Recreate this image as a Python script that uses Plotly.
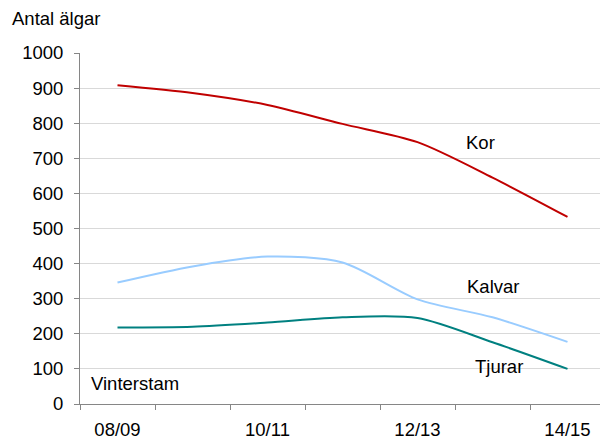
import plotly.graph_objects as go

seasons = ["08/09", "09/10", "10/11", "11/12", "12/13", "13/14", "14/15"]
tick_labels = ["08/09", "", "10/11", "", "12/13", "", "14/15"]
kor = [908, 886, 852, 798, 746, 645, 533]
kalvar = [346, 392, 420, 403, 298, 247, 177]
tjurar = [218, 220, 232, 247, 245, 176, 100]

FONT = "Liberation Sans, Arial, sans-serif"
FS = 18.5
fig = go.Figure()
for name, vals, col in [("Kor", kor, "#C00000"), ("Kalvar", kalvar, "#99CCFF"), ("Tjurar", tjurar, "#008080")]:
    fig.add_trace(go.Scatter(x=seasons, y=vals, mode="lines", name=name,
                             line=dict(color=col, width=2, shape="spline", smoothing=0.8)))

ann = [
    ("Antal älgar", -0.1333, 1.0997, "left"),
    ("Kor", 0.762, 0.744, "center"),
    ("Kalvar", 0.787, 0.336, "center"),
    ("Tjurar", 0.798, 0.108, "center"),
    ("Vinterstam", 0.105, 0.057, "center"),
]
for t, x, y, xa in ann:
    fig.add_annotation(text=t, x=x, y=y, xref="paper", yref="paper", xanchor=xa, yanchor="middle",
                       showarrow=False, font=dict(family=FONT, size=FS, color="#000000"))

fig.update_layout(
    width=600, height=431,
    margin=dict(l=72, r=3, t=45, b=35),
    paper_bgcolor="white", plot_bgcolor="white",
    showlegend=False,
    font=dict(family=FONT, size=FS, color="#000000"),
    xaxis=dict(type="category", categoryorder="array", categoryarray=seasons,
               tickvals=seasons, ticktext=tick_labels, tickson="boundaries",
               ticks="outside", ticklen=5, tickcolor="#868686",
               showline=True, linecolor="#868686", linewidth=1,
               showgrid=False, range=[-0.5, 6.5], ticklabelstandoff=9, automargin=False),
    yaxis=dict(range=[0, 1000], dtick=100, ticks="outside", ticklen=5, tickcolor="#868686",
               showline=True, linecolor="#868686", linewidth=1,
               showgrid=True, gridcolor="#D9D9D9", gridwidth=1, zeroline=False,
               ticklabelstandoff=7, automargin=False),
)
fig.write_html("out.html")
